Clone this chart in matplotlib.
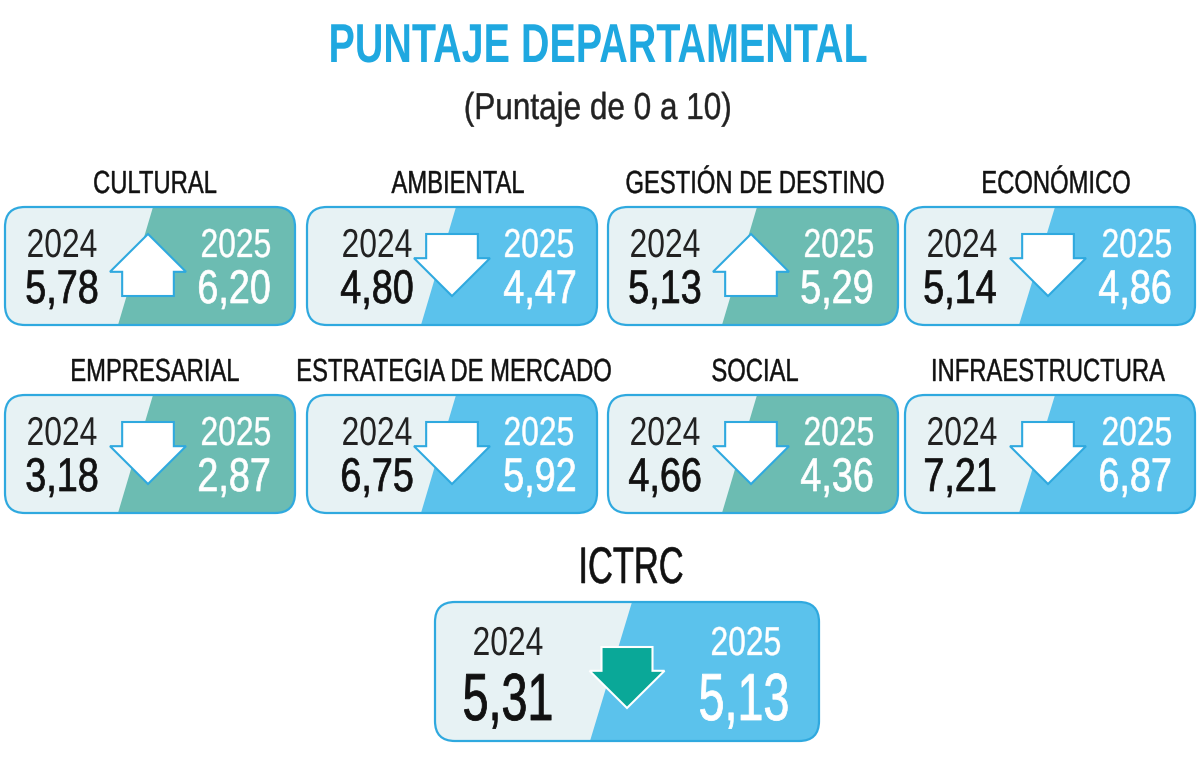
import matplotlib
matplotlib.use("Agg")
import matplotlib.pyplot as plt
from matplotlib.patches import FancyBboxPatch, Polygon
from matplotlib.patheffects import AbstractPathEffect
from matplotlib.transforms import Affine2D

plt.rcParams['font.family'] = ['Liberation Sans', 'DejaVu Sans']

# Datos
categorias = ["CULTURAL", "AMBIENTAL", "GESTIÓN DE DESTINO", "ECONÓMICO",
              "EMPRESARIAL", "ESTRATEGIA DE MERCADO", "SOCIAL", "INFRAESTRUCTURA"]
valores_2024 = [5.78, 4.80, 5.13, 5.14, 3.18, 6.75, 4.66, 7.21]
valores_2025 = [6.20, 4.47, 5.29, 4.86, 2.87, 5.92, 4.36, 6.87]
verdes = ["CULTURAL", "GESTIÓN DE DESTINO", "EMPRESARIAL", "SOCIAL"]
total_nombre = "ICTRC"
total_2024 = 5.31
total_2025 = 5.13

AZUL = "#5bc2ec"
BORDE = "#2fa9df"
VERDE = "#6cbcb2"
CLARO = "#e7f2f4"
TITULO = "#1fa8e0"
FLECHA = "#0aa898"

# Posiciones de las tarjetas en pixeles
card_x = [(5, 295), (307, 597), (608, 898), (905, 1195)]
card_y = [(207, 325), (395, 513)]
split_top = [153, 456, 757, 1055]
split_bot = [118, 421, 722, 1019]
flecha_x = [148, 452, 751, 1048]
anio_izq = [62, 377, 665, 962]
anio_der = [236, 539, 839, 1137]
val_izq = [62, 377, 665, 960]
val_der = [234, 540, 837, 1135]
titulo_x = [155, 458, 755, 1056, 155, 454, 755, 1048]

fig = plt.figure(figsize=(12, 7.7), dpi=100)
ax = fig.add_axes([0, 0, 1, 1])
ax.set_xlim(0, 1200)
ax.set_ylim(770, 0)
ax.axis("off")


class Alto(AbstractPathEffect):
    # no hay fuente condensada instalada: estira el texto en y sobre su linea base
    def __init__(self, factor, grosor):
        super().__init__()
        self.factor = factor
        self.grosor = grosor

    def draw_path(self, renderer, gc, tpath, affine, rgbFace=None):
        base_y = affine.transform([(0, 0)])[0][1]
        t = affine + Affine2D().translate(0, -base_y).scale(1, self.factor).translate(0, base_y)
        gc0 = renderer.new_gc()
        gc0.copy_properties(gc)
        gc0.set_linewidth(self.grosor)
        gc0.set_foreground(rgbFace)
        renderer.draw_path(gc0, tpath, t, rgbFace)
        gc0.restore()


def texto(x, y, s, color, size, factor, weight="normal", grosor=0.0):
    # size es el alto visible; el ancho sale de size * factor
    ax.text(x, y, s, color=color, fontsize=size * factor, fontweight=weight, ha="center",
            va="baseline", zorder=5, path_effects=[Alto(1 / factor, grosor)])


def fmt(v):
    return f"{v:.2f}".replace(".", ",")


def tarjeta(x0, x1, y0, y1, top, bot, color):
    base = FancyBboxPatch((x0, y0), x1 - x0, y1 - y0,
                          boxstyle="round,pad=0,rounding_size=20",
                          fc=CLARO, ec="none", zorder=1)
    ax.add_patch(base)
    der = Polygon([(top, y0), (x1, y0), (x1, y1), (bot, y1)], fc=color, ec="none", zorder=2)
    ax.add_patch(der)
    der.set_clip_path(base)
    borde = FancyBboxPatch((x0, y0), x1 - x0, y1 - y0,
                           boxstyle="round,pad=0,rounding_size=20",
                           fc="none", ec=BORDE, lw=1.6, zorder=3)
    ax.add_patch(borde)


def flecha(cx, y_top, alto, ancho, sube, fc, ec):
    # alto y ancho en pixeles, la cabeza ocupa parte del alto segun la direccion
    w = ancho / 2
    s = ancho * 0.34
    if sube:
        ala = y_top + alto * 0.61
        pts = [(cx, y_top), (cx + w, ala), (cx + s, ala), (cx + s, y_top + alto),
               (cx - s, y_top + alto), (cx - s, ala), (cx - w, ala)]
    else:
        ala = y_top + alto * 0.39
        pts = [(cx - s, y_top), (cx + s, y_top), (cx + s, ala), (cx + w, ala),
               (cx, y_top + alto), (cx - w, ala), (cx - s, ala)]
    ax.add_patch(Polygon(pts, closed=True, fc=fc, ec=ec, lw=1.5, joinstyle="miter", zorder=4))


texto(598, 62, "PUNTAJE DEPARTAMENTAL", TITULO, 39.5, 0.72, "bold")
texto(598, 119, "(Puntaje de 0 a 10)", "#222222", 27, 0.84, grosor=0.3)

for i, nombre in enumerate(categorias):
    col = i % 4
    fila = i // 4
    x0, x1 = card_x[col]
    y0, y1 = card_y[fila]
    color = VERDE if nombre in verdes else AZUL
    tarjeta(x0, x1, y0, y1, split_top[col], split_bot[col], color)
    sube = valores_2025[i] > valores_2024[i]
    flecha(flecha_x[col], y0 + 27, 62, 76, sube, "white", BORDE)
    texto(titulo_x[i], y0 - 14, nombre, "#111111", 23, 0.745, grosor=0.3)
    texto(anio_izq[col], y0 + 50, "2024", "#222222", 29, 0.79)
    texto(anio_der[col], y0 + 50, "2025", "white", 29, 0.79, grosor=0.3)
    texto(val_izq[col], y0 + 96, fmt(valores_2024[i]), "#111111", 34, 0.80, grosor=0.5)
    texto(val_der[col], y0 + 96, fmt(valores_2025[i]), "white", 34, 0.80, grosor=0.5)

# Indice total
tarjeta(435, 819, 602, 741, 632, 590, AZUL)
flecha(627, 647, 61, 75, total_2025 > total_2024, FLECHA, "white")
texto(631, 583, total_nombre, "#111111", 37, 0.67, grosor=0.4)
texto(508, 655, "2024", "#222222", 29, 0.79)
texto(746, 655, "2025", "white", 29, 0.79, grosor=0.3)
texto(508, 720, fmt(total_2024), "#111111", 48, 0.70, grosor=0.6)
texto(744, 720, fmt(total_2025), "white", 48, 0.70, grosor=0.6)

fig.savefig("out.png", dpi=100)
